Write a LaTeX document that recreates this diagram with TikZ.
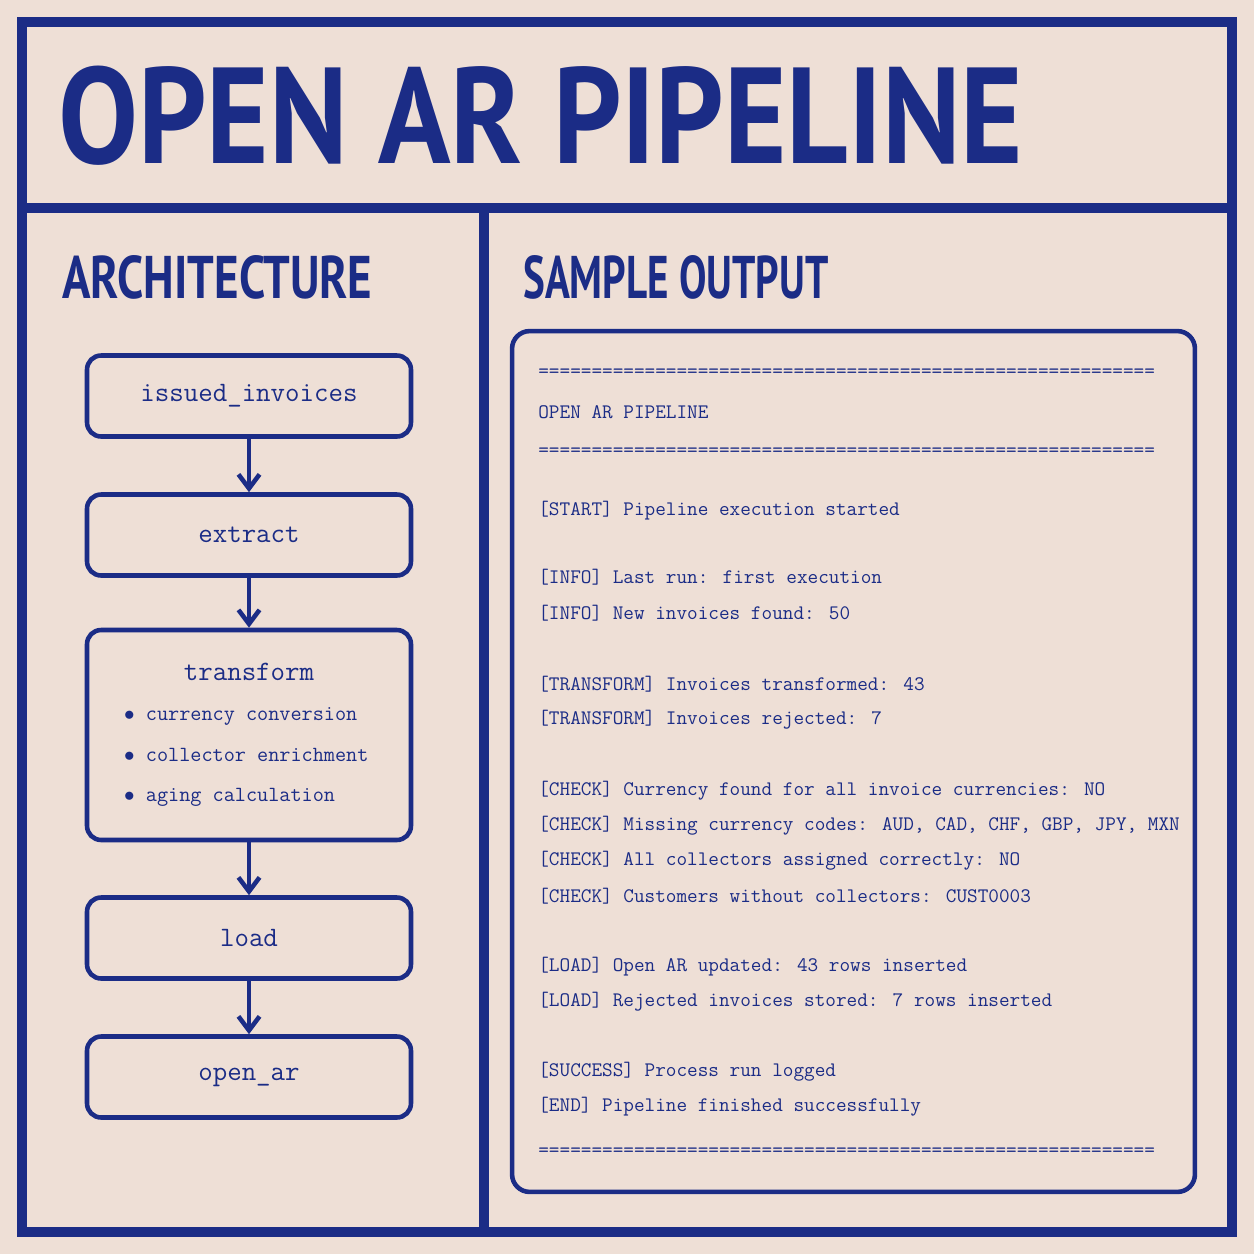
\documentclass[tikz,border=0pt]{standalone}
\usepackage{fontspec}
\newfontfamily\headfont{PT Sans}
\usetikzlibrary{arrows.meta, positioning}
\definecolor{paper}{HTML}{EEDFD6}
\definecolor{ink}{HTML}{1B2C86}
\tikzset{
  frame/.style = {draw=ink, line width=6pt},
  stage/.style = {draw=ink, line width=2.6pt, rounded corners=8pt, minimum width=6.48cm,
    minimum height=1.62cm, font=\ttfamily\fontsize{16}{18}\selectfont, text=ink},
  flow/.style = {draw=ink, line width=2.6pt, -{Straight Barb[length=8pt,width=12pt]}},
  logline/.style = {anchor=west, text=ink, inner sep=0pt, font=\ttfamily\fontsize{11.75}{13}\selectfont},
  heading/.style = {anchor=south west, text=ink, inner sep=0pt, font=\headfont\bfseries}
}
\begin{document}
\begin{tikzpicture}[x=0.02cm, y=-0.02cm]
  % Background and frame
  \fill[paper] (0,0) rectangle (1254,1254);
  \useasboundingbox (0,0) rectangle (1254,1254);
  \draw[frame] (22,22) rectangle (1232,1232);
  \draw[frame] (22,208) -- (1232,208);
  \draw[frame] (484,208) -- (484,1232);

  % Titles
  \node[heading] (title) at (58,166) {\resizebox{19.3cm}{1.95cm}{OPEN AR PIPELINE}};
  \node[heading] (arch) at (62,300) {\resizebox{6.2cm}{0.86cm}{ARCHITECTURE}};
  \node[heading] (sample) at (523,300) {\resizebox{6.1cm}{0.86cm}{SAMPLE OUTPUT}};

  % Architecture stages
  \node[stage] (issued) at (249,396) {issued\_invoices};
  \node[stage] (extract) at (249,535) {extract};
  \node[stage, minimum height=4.2cm] (transform) at (249,735) {};
  \node[stage] (load) at (249,938) {load};
  \node[stage] (openar) at (249,1077) {open\_ar};
  \node[text=ink, font=\ttfamily\fontsize{16}{18}\selectfont] (tname) at (249,672) {transform};
  \node[text=ink, anchor=west, align=left, font=\ttfamily\fontsize{12.3}{23}\selectfont] (tlist) at (118,757)
    {$\bullet$\ currency conversion\\$\bullet$\ collector enrichment\\$\bullet$\ aging calculation};

  \draw[flow] (issued) -- (extract);
  \draw[flow] (extract) -- (transform);
  \draw[flow] (transform) -- (load);
  \draw[flow] (load) -- (openar);

  % Sample output
  \node[draw=ink, line width=2.6pt, rounded corners=10pt, minimum width=13.66cm, minimum height=17.22cm] (console) at (853.5,761.5) {};
  \foreach \y/\t in {
    373/{==========================================================},
    412/{OPEN AR PIPELINE},
    452/{==========================================================},
    511/{[START] Pipeline execution started},
    577/{[INFO] Last run: first execution},
    613/{[INFO] New invoices found: 50},
    684/{[TRANSFORM] Invoices transformed: 43},
    720/{[TRANSFORM] Invoices rejected: 7},
    791/{[CHECK] Currency found for all invoice currencies: NO},
    826/{[CHECK] Missing currency codes: AUD, CAD, CHF, GBP, JPY, MXN},
    861/{[CHECK] All collectors assigned correctly: NO},
    896/{[CHECK] Customers without collectors: CUST0003},
    967/{[LOAD] Open AR updated: 43 rows inserted},
    1002/{[LOAD] Rejected invoices stored: 7 rows inserted},
    1072/{[SUCCESS] Process run logged},
    1107/{[END] Pipeline finished successfully},
    1152/{==========================================================}}
    \node[logline] (log\y) at (538,\y) {\t};
\end{tikzpicture}
\end{document}
